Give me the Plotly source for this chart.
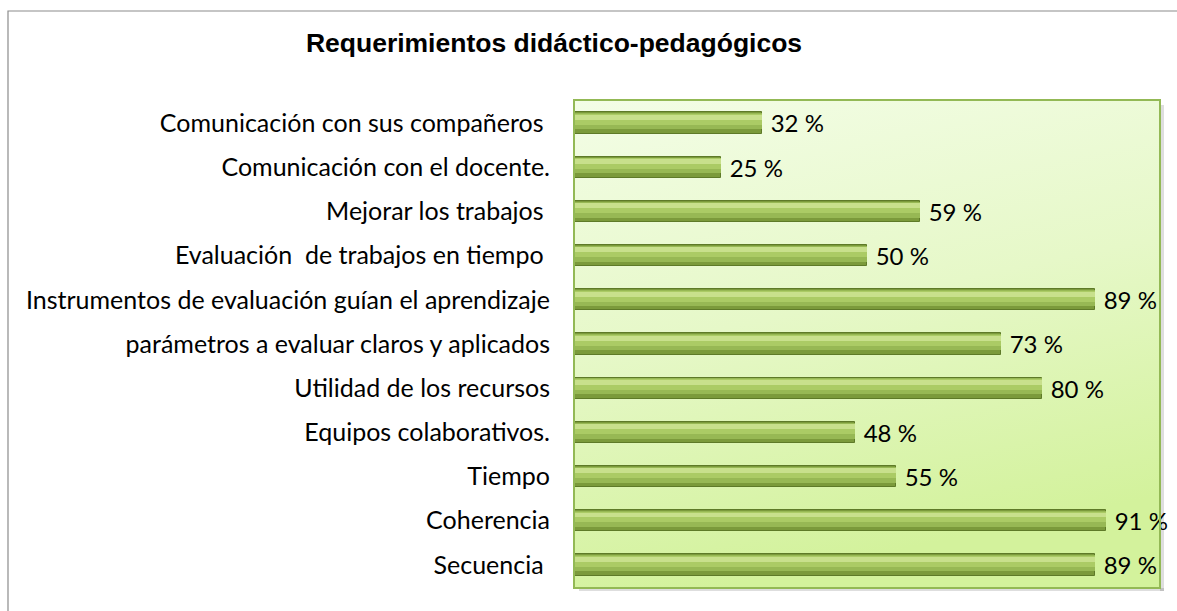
import base64
import plotly.graph_objects as go

# ---- data (top to bottom as shown) ----
categories = [
    "Comunicación con sus compañeros ",
    "Comunicación con el docente.",
    "Mejorar los trabajos ",
    "Evaluación  de trabajos en tiempo ",
    "Instrumentos de evaluación guían el aprendizaje",
    "parámetros a evaluar claros y aplicados",
    "Utilidad de los recursos",
    "Equipos colaborativos.",
    "Tiempo",
    "Coherencia",
    "Secuencia ",
]
values = [32, 25, 59, 50, 89, 73, 80, 48, 55, 91, 89]
value_labels = [f"{v} %" for v in values]
title_text = "Requerimientos didáctico-pedagógicos"

display = [c.replace(" ", "\u00a0") for c in categories]

W, H = 1177, 611
L, R, T, B = 575, 18, 101, 24
pw, ph = W - L - R, H - T - B

def px_x(px):
    return (px - L) / pw

def px_y(py):
    return (H - B - py) / ph

FONT = "Lato"
FS = 25

fig = go.Figure()

# bevelled bar look: stacked overlay layers (offset/width in category units, axis reversed)
layers = [
    (-0.24, 0.48, "#7b9a3b", "#5e7a28", 1.0),
    (-0.22, 0.36, "#97b854", None, 0),
    (-0.20, 0.24, "#abcb65", None, 0),
    (-0.185, 0.11, "#c8e08c", None, 0),
]
for i, (off, wd, col, lc, lw) in enumerate(layers):
    fig.add_trace(go.Bar(
        y=display, x=values, orientation="h",
        offset=off, width=wd,
        marker=dict(color=col, line=dict(color=lc or col, width=lw)),
        text=value_labels if i == 0 else None,
        texttemplate="\u00a0%{text}" if i == 0 else None,
        textposition="outside" if i == 0 else "none",
        constraintext="none",
        textfont=dict(family=FONT, size=24, color="#000000"),
        cliponaxis=False,
        hoverinfo="skip" if i else "x+y",
        showlegend=False,
    ))

# background gradient for plot area
svg = (
    '<svg xmlns="http://www.w3.org/2000/svg" width="100" height="100" preserveAspectRatio="none">'
    '<defs><linearGradient id="g" x1="0" y1="0" x2="0.25" y2="1">'
    '<stop offset="0" stop-color="#f3fde6"/><stop offset="0.5" stop-color="#e6f8c8"/>'
    '<stop offset="1" stop-color="#d3f29c"/></linearGradient></defs>'
    '<rect width="100" height="100" fill="url(#g)"/></svg>'
)
src = "data:image/svg+xml;base64," + base64.b64encode(svg.encode()).decode()

shadow = "rgba(0,0,0,0.13)"
fig.update_layout(
    width=W, height=H,
    margin=dict(l=L, r=R, t=T, b=B),
    paper_bgcolor="#ffffff",
    plot_bgcolor="rgba(0,0,0,0)",
    barmode="overlay",
    bargap=0,
    title=dict(
        text=title_text,
        font=dict(family="Liberation Sans", size=26.5, color="#000000", weight="bold"),
        x=554 / W, xref="container", xanchor="center",
        y=1 - 43 / H, yref="container", yanchor="middle",
    ),
    xaxis=dict(
        range=[0, 100], showticklabels=False, showgrid=False, zeroline=False,
        showline=True, mirror=True, linecolor="#93b955", linewidth=2, ticks="",
        fixedrange=True,
    ),
    yaxis=dict(
        type="category", autorange="reversed",
        showgrid=False, zeroline=False, showline=True, mirror=True,
        linecolor="#93b955", linewidth=2,
        ticks="outside", ticklen=18, tickcolor="rgba(0,0,0,0)",
        tickfont=dict(family=FONT, size=FS, color="#000000"),
        fixedrange=True,
    ),
    images=[dict(
        source=src, xref="paper", yref="paper", x=0, y=1, sizex=1, sizey=1,
        xanchor="left", yanchor="top", sizing="stretch", layer="below",
    )],
    shapes=[
        dict(type="rect", xref="paper", yref="paper",
             x0=px_x(8), x1=px_x(1190), y0=px_y(625), y1=px_y(11),
             line=dict(color="#8c8c8c", width=1.2), fillcolor="rgba(0,0,0,0)",
             layer="below"),
        # soft shadow right and bottom of plot area
        dict(type="rect", xref="paper", yref="paper",
             x0=px_x(1160), x1=px_x(1164), y0=px_y(591), y1=px_y(105),
             line=dict(width=0), fillcolor=shadow, layer="below"),
        dict(type="rect", xref="paper", yref="paper",
             x0=px_x(579), x1=px_x(1164), y0=px_y(591), y1=px_y(588),
             line=dict(width=0), fillcolor=shadow, layer="below"),
    ],
)

fig.write_html(
    "out.html",
    config={"displayModeBar": False},
    post_script="document.body.style.margin='0';document.body.style.overflow='hidden';",
)
